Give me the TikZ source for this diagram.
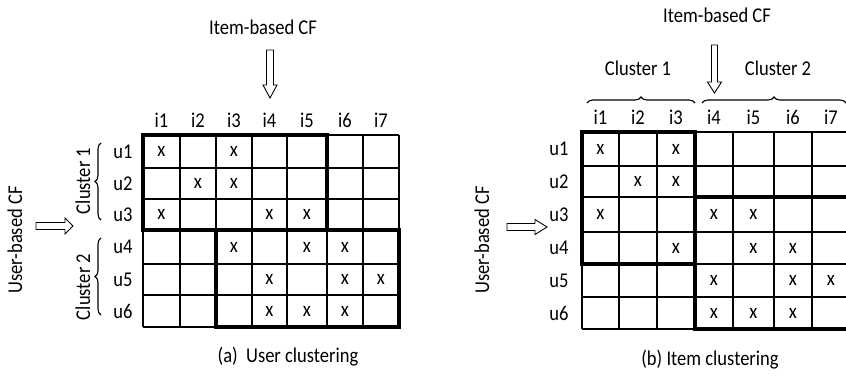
\documentclass[tikz,border=0pt]{standalone}
\usepackage{fontspec}
\setmainfont{Carlito}
\usepackage{graphicx}
\usetikzlibrary{decorations.pathreplacing}
\newcommand\tx[1]{\scalebox{0.95}[1.08]{#1}}
\begin{document}
\begin{tikzpicture}[x=1pt,y=-1pt,
  font=\fontsize{19.5}{22}\selectfont,
  lbl/.style={inner sep=0pt},
  gridline/.style={line width=1.5pt},
  boxline/.style={line width=4pt},
  brc/.style={decorate,decoration={brace,amplitude=6pt},line width=1.1pt},
  harrow/.style={draw,line width=0.9pt,fill=white}]
\clip (0,0) rectangle (846,375);
\fill[white] (0,0) rectangle (846,375);
% ---------- (a) user clustering ----------
\foreach \n/\x in {1/161.5,2/198,3/234,4/269.5,5/307,6/345,7/381}
  \coordinate (lc\n) at (\x,0);
\foreach \n/\y in {1/151.5,2/183.5,3/214.5,4/247,5/279.5,6/311}
  \coordinate (lr\n) at (0,\y);
\foreach \x in {143,180,216,252,287,327,363,399}
  \draw[gridline] (\x,135) -- (\x,327);
\foreach \y in {135,168,199,230,264,295,327}
  \draw[gridline] (143,\y) -- (399,\y);
\draw[boxline] (143,135) rectangle (327,230);
\draw[boxline] (216,230) rectangle (399,327);
\foreach \n in {1,...,7}
  \node[lbl] (li\n) at (lc\n |- 0,120) {\tx{i\n}};
\foreach \n in {1,...,6}
  \node[lbl] (lu\n) at (123,0 |- lr\n) {\tx{u\n}};
\foreach \c/\r in {1/1,3/1,2/2,3/2,1/3,4/3,5/3,3/4,5/4,6/4,4/5,6/5,7/5,4/6,5/6,6/6}
  \node[lbl] (lm\c\r) at (lc\c |- lr\r) {\tx{x}};
\draw[brc] (101,220) -- (101,143);
\draw[brc] (101,315) -- (101,238);
\node[lbl,rotate=90] (lcl1) at (83,181) {\tx{Cluster 1}};
\node[lbl,rotate=90] (lcl2) at (83,287) {\tx{Cluster 2}};
\node[lbl,rotate=90] (lub) at (15,240) {\tx{User-based CF}};
\node[lbl] (lib) at (263,27) {\tx{Item-based CF}};
\draw[harrow] (266.5,50) -- (273.5,50) -- (273.5,85) -- (277,85) -- (270,98) -- (263,85) -- (266.5,85) -- cycle;
\draw[harrow] (36,222.5) -- (65,222.5) -- (65,218) -- (73,226) -- (65,234) -- (65,229.5) -- (36,229.5) -- cycle;
\node[lbl] (lcap) at (288,357) {\tx{(a)\ \ User clustering}};
% ---------- (b) item clustering ----------
\foreach \n/\x in {1/600.5,2/638,3/676,4/714,5/753.5,6/793,7/831}
  \coordinate (rc\n) at (\x,0);
\foreach \n/\y in {1/149,2/181.5,3/214.5,4/248,5/280.5,6/313}
  \coordinate (rr\n) at (0,\y);
\foreach \x in {582,619,657,695,733,774,812,850}
  \draw[gridline] (\x,132) -- (\x,329);
\foreach \y in {132,166,197,232,264,297,329}
  \draw[gridline] (582,\y) -- (850,\y);
\draw[boxline] (582,132) rectangle (695,264);
\draw[boxline] (695,197) rectangle (852,329);
\foreach \n in {1,...,7}
  \node[lbl] (ri\n) at (rc\n |- 0,117) {\tx{i\n}};
\foreach \n in {1,...,6}
  \node[lbl] (ru\n) at (559,0 |- rr\n) {\tx{u\n}};
\foreach \c/\r in {1/1,3/1,2/2,3/2,1/3,4/3,5/3,3/4,5/4,6/4,4/5,6/5,7/5,4/6,5/6,6/6}
  \node[lbl] (rm\c\r) at (rc\c |- rr\r) {\tx{x}};
\draw[brc] (587,103) -- (695,103);
\draw[brc] (702,103) -- (846,103);
\node[lbl] (rcl1) at (638,68) {\tx{Cluster 1}};
\node[lbl] (rcl2) at (778,68) {\tx{Cluster 2}};
\node[lbl,rotate=90] (rub) at (482,240) {\tx{User-based CF}};
\node[lbl] (rib) at (717,15) {\tx{Item-based CF}};
\draw[harrow] (711.5,45) -- (717.5,45) -- (717.5,82) -- (721.5,82) -- (714.5,93) -- (707.5,82) -- (711.5,82) -- cycle;
\draw[harrow] (507,223.5) -- (535,223.5) -- (535,219.5) -- (547,227) -- (535,234.5) -- (535,230.5) -- (507,230.5) -- cycle;
\node[lbl] (rcap) at (710,360) {\tx{(b) Item clustering}};
\end{tikzpicture}
\end{document}
